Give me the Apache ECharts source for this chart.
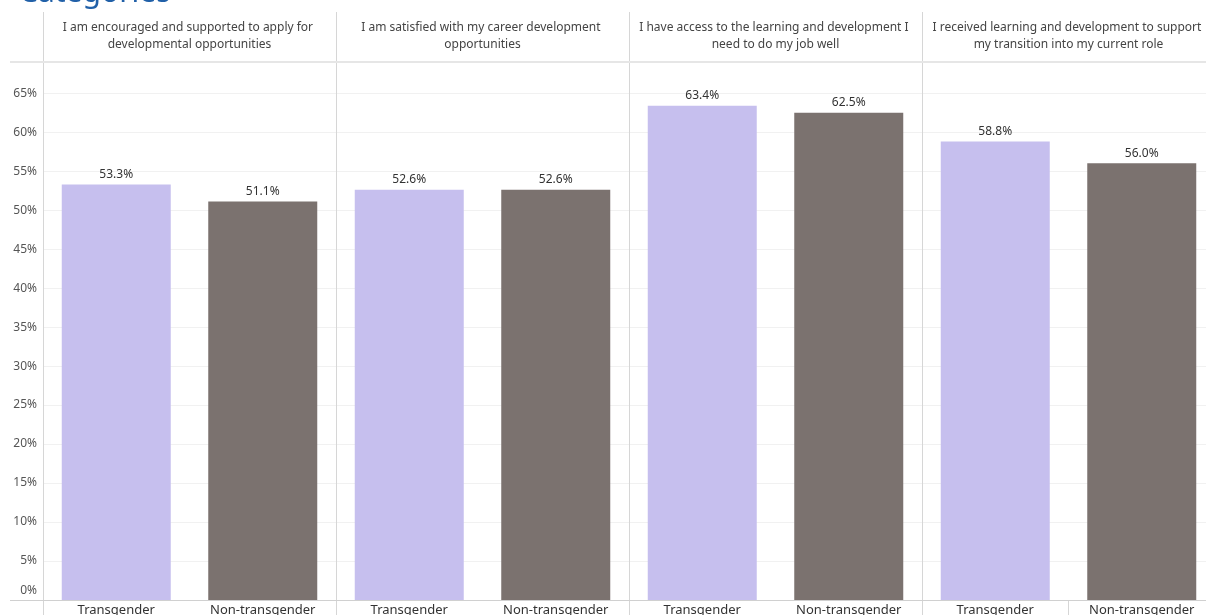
<!DOCTYPE html>
<html>
<head>
<meta charset="utf-8">
<script src="https://cdn.jsdelivr.net/npm/echarts@6/dist/echarts.min.js"></script>
<style>
  html, body { margin: 0; padding: 0; background: #fff; }
  #chart { width: 1206px; height: 615px; }
</style>
</head>
<body>
<div id="chart"></div>
<script>
// Survey statements shown as column headers
const statements = [
  'I am encouraged and supported to apply for developmental opportunities',
  'I am satisfied with my career development opportunities',
  'I have access to the learning and development I need to do my job well',
  'I received learning and development to support my transition into my current role'
];
const groups = ['Transgender', 'Non-transgender'];
// Percent agreeing, one value per statement
const transgender = [53.3, 52.6, 63.4, 58.8];
const nonTransgender = [51.1, 52.6, 62.5, 56.0];

const colors = { trans: '#c6bfee', non: '#7b726f' };
const divider = '#d6d6d6';
const font = '"Noto Sans", "Open Sans", sans-serif';

// one category per (statement, group) pair
const cats = [];
const transData = [];
const nonData = [];
statements.forEach((s, i) => {
  cats.push(groups[0], groups[1]);
  transData.push(transgender[i], '-');
  nonData.push('-', nonTransgender[i]);
});

const valueLabel = {
  show: true, position: 'top', distance: 4,
  formatter: p => p.value.toFixed(1) + '%',
  color: '#333', fontSize: 12, fontFamily: font
};

const chart = echarts.init(document.getElementById('chart'));
chart.setOption({
  animation: false,
  title: {
    text: 'Categories', left: 14, top: -27,
    textStyle: { color: '#2160a8', fontSize: 30, fontWeight: 'normal', fontFamily: font }
  },
  grid: { left: 43, top: 62, width: 1172, bottom: 15, containLabel: false, outerBoundsMode: 'none' },
  xAxis: [
    {
      type: 'category', data: cats, position: 'bottom',
      axisLine: { show: false },
      axisTick: { show: true, interval: 1, length: 15, lineStyle: { color: divider } },
      axisLabel: { interval: 0, margin: 4, fontSize: 13, color: '#333', fontFamily: font },
      splitLine: { show: false }
    },
    {
      type: 'category', data: statements, position: 'top',
      axisLine: { show: false },
      axisTick: { show: true, length: 50, lineStyle: { color: divider } },
      axisLabel: {
        interval: 0, margin: 9, width: 286, overflow: 'break',
        fontSize: 12, lineHeight: 17, color: '#444', fontFamily: font, align: 'center'
      },
      splitLine: { show: true, lineStyle: { color: divider } }
    }
  ],
  yAxis: {
    type: 'value', min: 0, max: 69, interval: 5,
    axisLine: { show: false }, axisTick: { show: false },
    splitLine: { lineStyle: { color: '#f1f1f1' } },
    axisLabel: {
      margin: 6, fontSize: 12, color: '#555', fontFamily: font, showMaxLabel: false,
      formatter: v => v === 0 ? '{z|0%}' : (v % 5 === 0 ? v + '%' : ''),
      rich: { z: { fontSize: 12, color: '#555', fontFamily: font, padding: [0, 0, 18, 0] } }
    }
  },
  series: [
    {
      name: groups[0], type: 'bar', data: transData, barWidth: 109, barGap: '-100%',
      itemStyle: { color: colors.trans }, label: valueLabel
    },
    {
      name: groups[1], type: 'bar', data: nonData, barWidth: 109,
      itemStyle: { color: colors.non }, label: valueLabel
    }
  ],
  graphic: [
    { type: 'line', shape: { x1: 10, y1: 62, x2: 1206, y2: 62 }, style: { stroke: '#e6e6e6', lineWidth: 2 }, z: 5 },
    { type: 'line', shape: { x1: 10, y1: 600.5, x2: 1206, y2: 600.5 }, style: { stroke: '#d0d0d0', lineWidth: 1 }, z: 5 }
  ]
});
</script>
</body>
</html>
